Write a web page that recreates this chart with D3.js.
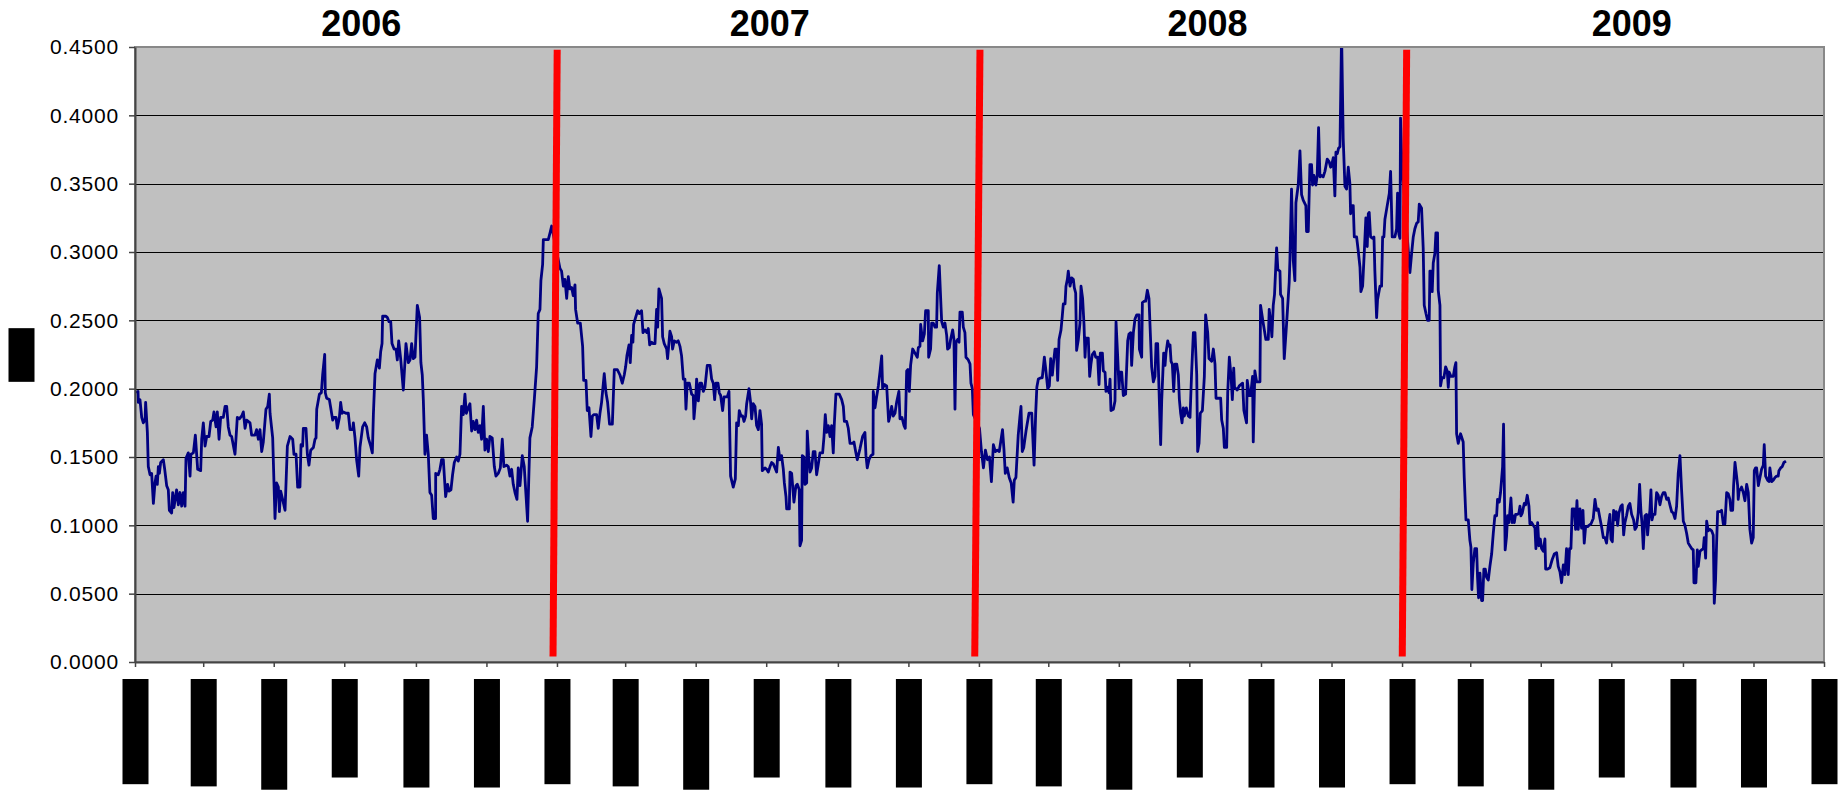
<!DOCTYPE html>
<html>
<head>
<meta charset="utf-8">
<script src="https://cdn.jsdelivr.net/npm/d3@7"></script>
<style>
  body { margin: 0; background: #fff; }
  svg { display: block; font-family: "Liberation Sans", Arial, sans-serif; }
</style>
</head>
<body>
<svg id="chart"></svg>
<script>
// Series: [days since 2006-01-01, value]
const seriesStart = Date.UTC(2006, 0, 1);
const seriesEnd = Date.UTC(2010, 0, 1);

const pts2006 = [
[0.9,.197],[2.6,.198],[2.9,.190],[4.3,.192],[5.8,.179],[7.2,.175],[8.7,.177],[9.2,.190],[10.7,.168],[11.5,.143],[13.0,.137],[14.4,.138],[15.9,.116],[17.3,.131],[18.2,.136],[19.3,.130],[20.2,.143],[21.1,.138],[22.2,.146],[24.5,.148],[25.7,.141],[27.4,.129],[28.8,.126],[29.7,.111],[31.7,.109],[32.6,.124],[33.7,.113],[36.0,.126],[37.5,.115],[38.9,.124],[40.4,.114],[41.8,.124],[43.3,.114],[44.1,.149],[46.1,.153],[47.6,.136],[48.4,.152],[50.5,.153],[52.2,.166],[54.2,.141],[56.8,.140],[57.7,.163],[59.1,.175],[60.6,.158],[62.0,.165],[64.0,.165],[65.5,.176],[67.2,.177],[68.3,.183],[70.1,.172],[71.2,.183],[72.7,.163],[74.1,.179],[76.4,.179],[77.9,.187],[79.3,.187],[80.7,.172],[82.2,.166],[83.6,.165],[86.5,.152],[88.5,.179],[90.3,.178],[92.3,.180],[93.7,.183],[95.2,.171],[96.6,.177],[99.5,.175],[100.9,.166],[103.8,.166],[105.2,.170],[106.7,.163],[108.1,.170],[109.6,.154],[111.0,.161],[113.3,.185],[114.8,.187],[116.2,.196],[116.8,.182],[119.1,.164],[121.1,.105],[122.5,.131],[124.0,.128],[124.9,.110],[126.0,.125],[127.7,.119],[129.8,.111],[131.8,.158],[134.1,.165],[136.4,.163],[137.5,.152],[139.3,.152],[140.7,.128],[142.7,.128],[143.6,.159],[145.0,.158],[145.6,.171],[147.9,.171],[149.1,.152],[150.5,.144],[152.0,.155],[154.3,.157],[155.7,.163],[156.6,.164],[157.2,.185],[159.5,.196],[161.2,.197],[162.3,.210],[164.1,.225],[164.6,.197],[165.8,.193],[168.1,.192],[169.3,.186],[171.0,.177],[172.1,.179],[173.9,.179],[175.0,.171],[176.8,.179],[177.9,.190],[179.1,.182],[180.2,.183],[182.5,.182],[184.5,.182],[186.0,.170],[188.3,.170],[188.9,.175],[190.3,.164],[191.7,.148],[193.5,.136],[194.6,.157],[196.9,.172],[198.7,.175],[200.4,.172],[201.8,.164],[203.9,.158],[205.3,.153],[206.2,.181],[207.6,.211],[209.6,.221],[211.4,.215],[212.5,.227],[213.7,.233],[214.2,.253],[217.1,.253],[218.3,.252],[219.7,.249],[221.2,.249],[222.3,.233],[224.1,.229],[225.8,.229],[226.9,.221],[228.1,.235],[229.8,.222],[232.1,.199],[234.4,.233],[236.4,.219],[237.9,.221],
[239.3,.233],[240.7,.222],[242.2,.223],[244.2,.261],[246.2,.252],[247.3,.219],[248.5,.210],[249.4,.192],[250.8,.152],[252.2,.166],[253.7,.152],[255.1,.124],[256.6,.122],[258.0,.105],[260.0,.105],[260.1,.138],[262.3,.137],[263.8,.141],[265.2,.148],[266.7,.148],[268.7,.121],[270.4,.130],[271.6,.125],[273.3,.126],[274.7,.137],[276.2,.146],[278.2,.150],[279.6,.147],[281.1,.152],[282.5,.187],[284.0,.181],[285.4,.196],[286.6,.182],[288.3,.186],[289.7,.189],[291.2,.169],[292.6,.176],[294.1,.170],[295.5,.177],[296.9,.168],[298.4,.173],[299.8,.163],[301.3,.187],[302.7,.155],[304.1,.163],[305.6,.154],[307.0,.165],[309.0,.164],[310.8,.143],[312.2,.136],[314.2,.138],[316.0,.142],[317.7,.163],[319.1,.143],[321.4,.144],[322.9,.143],[324.3,.136],[325.8,.141],[327.2,.130],[328.7,.124],[330.4,.119],[331.5,.142],[333.0,.129],[335.0,.151],[336.7,.143],[339.6,.103],[341.6,.164],[343.6,.172],[345.4,.192],[347.4,.216],[348.8,.255],[350.3,.258],[351.1,.279],[352.6,.291],[353.2,.309],[356.1,.309],[357.5,.309],[359.0,.314],[360.4,.319]
];

const pts2007 = [
[367.6,.288],[369.0,.286],[370.5,.275],[371.9,.280],[373.4,.266],[374.8,.282],[376.2,.273],[377.7,.274],[379.1,.268],[380.6,.276],[381.1,.258],[382.9,.248],[385.2,.248],[387.2,.231],[388.1,.206],[390.1,.206],[391.2,.184],[392.7,.186],[394.4,.165],[395.6,.180],[397.0,.181],[399.3,.181],[400.7,.171],[402.2,.182],[403.6,.190],[405.9,.211],[407.4,.197],[408.8,.190],[410.5,.174],[412.9,.174],[414.6,.214],[417.2,.214],[419.5,.210],[421.5,.204],[423.2,.210],[424.4,.216],[425.5,.224],[427.3,.232],[428.4,.219],[429.6,.239],[430.7,.234],[431.3,.247],[433.0,.252],[434.8,.257],[436.2,.255],[438.2,.257],[439.4,.241],[441.1,.243],[442.8,.241],[444.0,.244],[445.2,.232],[446.9,.234],[448.3,.233],[449.8,.233],[451.2,.258],[452.1,.245],[453.2,.273],[455.5,.266],[456.4,.238],[457.8,.233],[459.9,.229],[460.7,.222],[462.7,.242],[464.2,.238],[465.0,.229],[466.5,.235],[468.5,.234],[469.9,.235],[471.4,.231],[472.8,.224],[474.3,.207],[475.7,.207],
[476.6,.185],[477.7,.204],[479.5,.204],[481.5,.196],[482.9,.195],[483.5,.178],[485.0,.193],[485.8,.207],[487.3,.191],[488.7,.204],[490.1,.204],[491.6,.198],[493.0,.201],[495.0,.217],[497.4,.217],[498.8,.207],[500.2,.204],[501.4,.192],[502.5,.204],[504.3,.204],[505.4,.197],[506.6,.195],[508.3,.184],[509.5,.194],[512.3,.194],[513.8,.198],[515.2,.136],[517.5,.128],[519.3,.134],[520.4,.175],[521.9,.173],[522.7,.184],[524.2,.180],[525.6,.180],[526.8,.176],[528.2,.180],[529.1,.189],[531.1,.200],[532.5,.190],[533.4,.178],[534.8,.189],[536.3,.187],[537.7,.173],[539.2,.170],[540.6,.184],[542.0,.174],[542.6,.140],[544.9,.142],[546.4,.141],[547.8,.139],[549.3,.143],[550.7,.146],[552.1,.145],[553.6,.142],[555.0,.139],[556.5,.157],[557.9,.148],[559.3,.151],[560.8,.141],[561.7,.131],[563.1,.121],[563.7,.112],[566.0,.112],[566.6,.139],[568.0,.138],[570.0,.117],[571.7,.129],[572.9,.130],[574.6,.126],[575.2,.085],[576.6,.089],[577.2,.151],[578.7,.150],[579.5,.130],[581.0,.131],[581.5,.169],[582.7,.151],[583.9,.139],[585.3,.142],[586.7,.154],[588.2,.154],[589.6,.137],[591.1,.145],[592.5,.153],[594.8,.153],[596.0,.165],[597.1,.181],[598.3,.168],[599.7,.173],[601.2,.165],[602.6,.173],[604.0,.153],[604.9,.174],[606.3,.196],[609.2,.196],[611.3,.192],[612.7,.187],[613.6,.176],[615.6,.176],[617.0,.171],[618.5,.160],[620.8,.160],[621.9,.161],[623.6,.153],[624.8,.148],[627.1,.156],[629.4,.165],[631.4,.168],[632.3,.151],[633.4,.142],[634.9,.148],[636.6,.151],[638.4,.152],[638.6,.198],[640.1,.186],[641.5,.194],[643.0,.202],[644.4,.212],[645.9,.224],[646.7,.200],[648.2,.203],[650.2,.202],[651.9,.176],[653.1,.180],[654.5,.187],[655.9,.180],[657.4,.182],[658.8,.190],[660.8,.198],[661.7,.178],[663.4,.179],[665.2,.173],[666.3,.171],[667.5,.213],[668.6,.214],[669.8,.198],[670.9,.217],[672.7,.229],[674.7,.226],[676.7,.223],[677.6,.230],[679.0,.231],[679.6,.247],[681.3,.235],[682.8,.240],[683.9,.257],[686.2,.257],[686.5,.223],[688.2,.229],[689.1,.248],[690.5,.248],[692.0,.245],[693.4,.245],[694.0,.270],[695.7,.290],[697.2,.260],[697.8,.249],[699.2,.245],[700.6,.248],[702.1,.239],[702.9,.229],[704.4,.230],[705.5,.236],[707.3,.243],[708.4,.236],[709.3,.185],[710.2,.234],[711.6,.236],[712.8,.234],[713.6,.256],[715.6,.256],[716.5,.245],[717.9,.241],[718.8,.223],[720.8,.221],[722.3,.218],[723.1,.204],[724.3,.200],[725.2,.181]
];

const pts2008 = [
[730.5,.171],[732.2,.154],[733.9,.142],[735.6,.155],[737.4,.148],[739.1,.150],[740.8,.132],[742.5,.159],[744.2,.154],[745.9,.155],[747.6,.154],[750.4,.170],[751.7,.155],[752.8,.138],[754.5,.142],[756.2,.135],[757.9,.131],[759.6,.117],[760.6,.133],[762.0,.135],[764.0,.166],[765.4,.179],[766.4,.187],[767.5,.154],[768.8,.157],[770.9,.170],[773.3,.182],[775.7,.182],[777.7,.144],[779.1,.182],[780.1,.201],[781.4,.207],[783.7,.208],[784.8,.208],[786.6,.223],[787.7,.215],[789.5,.200],[790.9,.202],[792.1,.222],[793.5,.210],[794.4,.218],[795.8,.229],[797.2,.229],[798.1,.206],[799.3,.236],[801.0,.243],[802.1,.253],[803.0,.262],[804.5,.262],[805.3,.275],[806.5,.280],[807.3,.286],[808.8,.275],[810.2,.281],[811.7,.280],[812.5,.274],[813.7,.270],[814.5,.228],[816.0,.236],[817.4,.248],[818.3,.275],[819.7,.266],[820.9,.247],[821.8,.223],[822.6,.237],[824.6,.237],[825.8,.209],[826.9,.218],[828.1,.225],[829.8,.227],[831.0,.223],[832.7,.223],[833.9,.203],[835.0,.226],[836.8,.226],[837.6,.213],[839.1,.212],[839.9,.198],[841.4,.201],[842.5,.197],[843.4,.207],[844.2,.184],[846.3,.185],[847.7,.191],[848.6,.249],[850.0,.224],[851.2,.200],[852.0,.212],[853.5,.212],[854.9,.195],[856.9,.196],[858.7,.235],[859.8,.240],[861.3,.241],[862.1,.217],[863.6,.241],[865.0,.251],[866.5,.254],[868.5,.254],[868.8,.229],[870.8,.223],[871.4,.263],[873.1,.264],[874.2,.264],[875.7,.272],[877.1,.266],[879.4,.216],[880.9,.205],[882.3,.209],[883.2,.233],[884.6,.233],[887.2,.159],[888.1,.191],[889.8,.226],[891.0,.217],[891.8,.226],[893.3,.235],[894.4,.231],[895.3,.232],[896.2,.220],[897.3,.218],[898.5,.198],[899.6,.218],[901.1,.218],[902.5,.210],[903.4,.192],[904.5,.182],[905.7,.175],[906.8,.186],[907.7,.180],[909.4,.186],[911.1,.180],[912.6,.179],[914.0,.212],[915.5,.241],[916.9,.241],[918.4,.210],[919.2,.154],[920.4,.160],[921.5,.182],[923.3,.184],[925.0,.209],[926.1,.254],[927.9,.241],[929.0,.222],[931.3,.220],[932.8,.229],[934.2,.218],[935.1,.193],[937.1,.193],[939.1,.193],[940.0,.177],[941.4,.171],[942.3,.157],[944.3,.157],[945.2,.197],[946.6,.223],[948.1,.209],[949.2,.192],[950.4,.215],
[951.1,.201],[953.4,.199],[955.2,.202],[958.1,.204],[959.2,.184],[961.5,.175],[962.1,.206],[963.8,.195],[965.0,.195],[966.7,.209],[967.3,.161],[968.7,.213],[970.2,.205],[973.1,.205],[973.6,.261],[975.9,.248],[978.2,.236],[980.3,.236],[981.1,.258],[982.6,.247],[983.4,.238],[984.6,.261],[985.7,.269],[987.5,.303],[988.6,.287],[990.4,.286],[990.9,.269],[992.7,.266],[994.1,.222],[996.1,.247],[998.4,.278],[999.0,.294],[1000.4,.346],[1001.9,.294],[1003.3,.279],[1004.2,.336],[1006.2,.349],[1007.7,.374],[1009.1,.342],[1010.5,.338],[1012.8,.334],[1013.4,.315],[1014.9,.315],[1016.3,.364],[1017.7,.364],[1018.6,.349],[1019.8,.356],[1021.5,.349],[1022.6,.356],[1023.8,.391],[1025.0,.355],[1026.4,.356],[1027.8,.355],[1029.3,.359],[1031.3,.368],[1033.0,.366],[1034.2,.362],[1035.0,.363],[1036.5,.369],[1037.9,.341],[1038.8,.373],[1040.0,.372],[1041.1,.376],[1042.3,.377],[1043.7,.460],[1045.1,.383],[1046.6,.348],[1048.0,.346],[1049.5,.362],[1050.9,.350],[1051.5,.328],[1052.9,.334],[1053.8,.334],[1054.7,.311],[1056.7,.311],[1058.1,.301],[1059.6,.289],[1060.4,.271],[1061.9,.275],[1063.3,.299],[1064.7,.325],[1065.9,.304],[1066.8,.328],[1067.6,.329],[1068.8,.311],[1070.5,.310],[1071.7,.311],[1072.5,.286],[1074.0,.252],[1074.8,.265],[1076.9,.275],[1078.3,.275],[1079.2,.311],[1080.3,.311],[1081.2,.324],[1082.6,.331],[1085.0,.343],[1086.1,.359],[1087.5,.311],[1089.8,.311],[1091.3,.317],[1092.1,.343],[1093.3,.313],[1094.2,.310],[1094.7,.398],[1095.9,.364]
];

const pts2009 = [
[1102.8,.285],[1104.3,.299],[1105.7,.311],[1107.1,.317],[1108.6,.321],[1110.0,.322],[1110.9,.335],[1112.9,.332],[1114.3,.303],[1115.2,.261],[1116.7,.255],[1118.1,.250],[1119.5,.250],[1120.1,.286],[1121.0,.286],[1122.1,.271],[1123.0,.292],[1124.4,.299],[1125.3,.314],[1126.7,.314],[1127.3,.272],[1128.8,.261],[1129.3,.202],[1130.5,.208],[1132.2,.208],[1133.7,.216],[1135.1,.213],[1136.0,.201],[1136.8,.212],[1138.3,.209],[1140.3,.209],[1141.7,.216],[1142.6,.219],[1143.2,.167],[1144.6,.160],[1146.6,.167],[1148.9,.161],[1149.8,.135],[1151.3,.104],[1153.3,.104],[1154.7,.089],[1155.6,.084],[1156.4,.053],[1157.6,.072],[1159.0,.083],[1160.5,.083],[1161.3,.062],[1162.2,.047],[1163.4,.065],[1164.8,.045],[1165.7,.045],[1166.8,.068],[1168.0,.068],[1169.1,.062],[1170.6,.060],[1172.0,.070],[1173.5,.079],[1174.9,.094],[1176.3,.107],[1177.8,.107],[1178.6,.119],[1180.1,.117],[1181.2,.124],[1183.0,.143],[1183.8,.174],[1185.2,.082],
[1186.4,.092],[1187.3,.107],[1188.5,.102],[1190.2,.120],[1191.3,.102],[1192.2,.107],[1193.1,.102],[1194.2,.108],[1196.0,.108],[1197.1,.109],[1198.0,.114],[1198.8,.107],[1200.0,.109],[1201.7,.116],[1202.9,.115],[1204.3,.122],[1205.8,.114],[1206.6,.101],[1208.1,.102],[1209.5,.100],[1211.0,.098],[1211.8,.083],[1213.3,.102],[1214.4,.085],[1215.6,.090],[1216.7,.083],[1218.2,.081],[1219.6,.090],[1220.2,.068],[1221.9,.068],[1223.9,.069],[1225.9,.075],[1227.7,.079],[1229.7,.080],[1231.1,.070],[1232.6,.066],[1234.0,.058],[1235.5,.071],[1236.9,.064],[1238.3,.083],[1239.8,.064],[1240.9,.083],[1242.1,.083],[1243.2,.112],[1245.0,.112],[1246.1,.097],[1247.3,.118],[1248.4,.097],[1249.9,.112],[1251.3,.098],[1252.5,.111],[1253.6,.087],[1254.8,.099],[1256.5,.099],[1257.7,.100],[1259.4,.101],[1261.4,.105],[1262.9,.119],[1264.3,.111],[1265.7,.112],[1267.2,.105],[1268.6,.099],[1270.1,.091],[1271.5,.091],[1272.9,.087],[1274.4,.100],[1275.8,.108],[1276.7,.090],[1277.9,.088],[1279.0,.111],[1280.2,.104],[1281.3,.110],[1282.5,.100],[1283.6,.109],[1285.3,.114],[1286.5,.115],[1287.7,.093],[1288.8,.102],[1290.2,.107],[1291.7,.114],[1293.1,.116],[1294.6,.108],[1296.3,.104],[1297.5,.097],[1298.9,.099],[1300.3,.109],[1301.5,.130],[1302.6,.111],[1303.8,.099],[1304.7,.083],[1306.1,.107],[1307.5,.108],[1308.4,.093],[1309.6,.105],[1310.4,.111],[1311.3,.126],[1312.2,.104],[1313.3,.108],[1314.8,.108],[1316.2,.124],[1317.6,.122],[1319.1,.115],[1320.5,.121],[1322.0,.124],[1323.4,.124],[1324.9,.119],[1326.3,.120],[1327.7,.115],[1329.2,.110],[1330.6,.109],[1332.1,.105],[1333.5,.114],[1334.9,.138],[1336.4,.151],[1337.8,.126],[1339.3,.103],[1340.7,.100],[1342.2,.094],[1343.6,.087],[1345.0,.085],[1346.5,.083],[1347.9,.082],[1348.5,.058],[1350.2,.058],[1351.4,.082],[1352.2,.070],[1353.7,.081],[1355.1,.082],[1356.6,.083],[1357.4,.091],[1358.6,.076],[1359.5,.103],[1360.9,.096],[1362.3,.097],[1363.8,.096],[1365.2,.093],[1366.1,.043],[1367.2,.060],[1368.1,.087],[1369.0,.110],[1371.0,.110],[1372.4,.111],[1373.9,.101],[1375.3,.101],[1376.8,.124],[1378.2,.123],[1379.6,.119],[1380.5,.111],[1382.0,.111],[1382.8,.129],[1384.0,.146],[1385.4,.136],[1386.3,.129],[1386.8,.119],[1387.7,.126],[1388.6,.126],[1389.7,.128],[1391.2,.124],[1392.6,.118],[1394.1,.130],[1395.5,.124],[1396.9,.097],[1398.4,.087],[1399.8,.091],[1400.7,.140],[1401.8,.142],[1402.7,.142],[1404.2,.129],[1405.6,.135],[1407.0,.141],[1408.5,.144],[1409.3,.159],[1410.5,.136],[1412.2,.133],[1413.4,.132],[1414.2,.142],[1415.7,.132],[1417.1,.133],[1418.6,.135],[1420.0,.136],[1421.4,.136],[1422.0,.140],[1423.5,.142],[1424.9,.143],[1426.3,.146],[1428.1,.147]
];

const yTicks = [0, 0.05, 0.10, 0.15, 0.20, 0.25, 0.30, 0.35, 0.40, 0.45];
const yearLabels = ["2006", "2007", "2008", "2009"];
const yearLabelDays = [195.8, 549.0, 927.7, 1294.7];
// red year separators: top end and bottom end (days), vertical span (values)
const breakTopDays = [365.2, 730.9, 1100.0];
const breakBottomDays = [361.6, 726.4, 1096.2];
const breakSpan = [0.448, 0.004];
const yTitle = "Value";

const W = 1839, H = 792;
const plot = { left: 135, right: 1824, top: 47, bottom: 662 };

const svg = d3.select("#chart").attr("width", W).attr("height", H);
svg.append("rect").attr("width", W).attr("height", H).attr("fill", "#fff");

const dayToDate = d => new Date(seriesStart + d * 864e5);

const x = d3.scaleUtc([new Date(seriesStart), new Date(seriesEnd)], [plot.left, plot.right]);
const y = d3.scaleLinear([0, 0.45], [plot.bottom, plot.top]);

// plot area
svg.append("rect")
  .attr("x", plot.left).attr("y", plot.top)
  .attr("width", plot.right - plot.left).attr("height", plot.bottom - plot.top)
  .attr("fill", "#c0c0c0");

svg.append("clipPath").attr("id", "chart-area")
  .append("rect")
  .attr("x", plot.left).attr("y", plot.top)
  .attr("width", plot.right - plot.left).attr("height", plot.bottom - plot.top);

// gridlines
svg.append("g").selectAll("line")
  .data(yTicks.filter(v => v > 0 && v < 0.45))
  .join("line")
  .attr("x1", plot.left).attr("x2", plot.right)
  .attr("y1", d => Math.round(y(d)) + 0.5).attr("y2", d => Math.round(y(d)) + 0.5)
  .attr("stroke", "#000").attr("stroke-width", 1);

// series
const data = [].concat(pts2006, pts2007, pts2008, pts2009);
const line = d3.line()
  .x(d => x(dayToDate(d[0])))
  .y(d => y(d[1]));
svg.append("path")
  .datum(data)
  .attr("clip-path", "url(#chart-area)")
  .attr("fill", "none")
  .attr("stroke", "#000080")
  .attr("stroke-width", 2.8)
  .attr("stroke-linejoin", "round")
  .attr("d", line);

// red year separators
svg.append("g").selectAll("line")
  .data(d3.range(breakTopDays.length))
  .join("line")
  .attr("x1", i => x(dayToDate(breakTopDays[i])))
  .attr("y1", y(breakSpan[0]))
  .attr("x2", i => x(dayToDate(breakBottomDays[i])))
  .attr("y2", y(breakSpan[1]))
  .attr("stroke", "#ff0000")
  .attr("stroke-width", 7);

// frame (top / right)
svg.append("rect")
  .attr("x", plot.left).attr("y", plot.top)
  .attr("width", plot.right - plot.left).attr("height", plot.bottom - plot.top)
  .attr("fill", "none").attr("stroke", "#888").attr("stroke-width", 2);

// y axis
const yAxis = d3.axisLeft(y)
  .tickValues(yTicks)
  .tickFormat(d3.format(".4f"))
  .tickSize(6).tickSizeOuter(0).tickPadding(10);
const gy = svg.append("g")
  .attr("transform", `translate(${plot.left},0)`)
  .call(yAxis)
  .attr("font-size", 21)
  .attr("font-family", "Liberation Sans, Arial, sans-serif");
gy.select(".domain").attr("stroke", "#444").attr("stroke-width", 2);
gy.selectAll(".tick line").attr("stroke", "#444").attr("stroke-width", 1.5);
gy.selectAll(".tick text").attr("fill", "#000").attr("letter-spacing", 0.8);

// x axis (labels are blacked out in the source)
const xAxis = d3.axisBottom(x)
  .ticks(d3.utcMonth.every(2))
  .tickFormat(d3.utcFormat("%-d-%b-%Y"))
  .tickSize(5).tickSizeOuter(0);
const gx = svg.append("g")
  .attr("transform", `translate(0,${plot.bottom})`)
  .call(xAxis)
  .attr("font-size", 20)
  .attr("font-family", "Liberation Sans, Arial, sans-serif");
gx.select(".domain").attr("stroke", "#444").attr("stroke-width", 2);
gx.selectAll(".tick line").attr("stroke", "#444").attr("stroke-width", 1.5);
gx.selectAll(".tick text")
  .attr("transform", "rotate(-90)")
  .attr("x", -19).attr("y", 0).attr("dy", "0.35em")
  .attr("text-anchor", "end")
  .attr("fill", "#000");
gx.selectAll(".tick").each(function () {
  const t = d3.select(this).select("text");
  const b = t.node().getBBox();
  d3.select(this).insert("rect", "text")
    .attr("transform", "rotate(-90)")
    .attr("x", b.x - 2).attr("y", b.y - 2)
    .attr("width", b.width + 4).attr("height", b.height + 4)
    .attr("fill", "#000");
});

// y title (blacked out)
const gt = svg.append("g").attr("transform", "translate(21.5,355) rotate(-90)");
const tt = gt.append("text")
  .attr("text-anchor", "middle").attr("dy", "0.35em")
  .attr("font-size", 20).attr("fill", "#000")
  .text(yTitle);
const tb = tt.node().getBBox();
gt.insert("rect", "text")
  .attr("x", tb.x - 2).attr("y", tb.y - 2)
  .attr("width", tb.width + 4).attr("height", tb.height + 4)
  .attr("fill", "#000");

// year labels
svg.append("g").selectAll("text")
  .data(yearLabels)
  .join("text")
  .attr("x", (d, i) => x(dayToDate(yearLabelDays[i])))
  .attr("y", 36)
  .attr("text-anchor", "middle")
  .attr("font-size", 36)
  .attr("font-weight", "bold")
  .attr("fill", "#000")
  .text(d => d);
</script>
</body>
</html>
